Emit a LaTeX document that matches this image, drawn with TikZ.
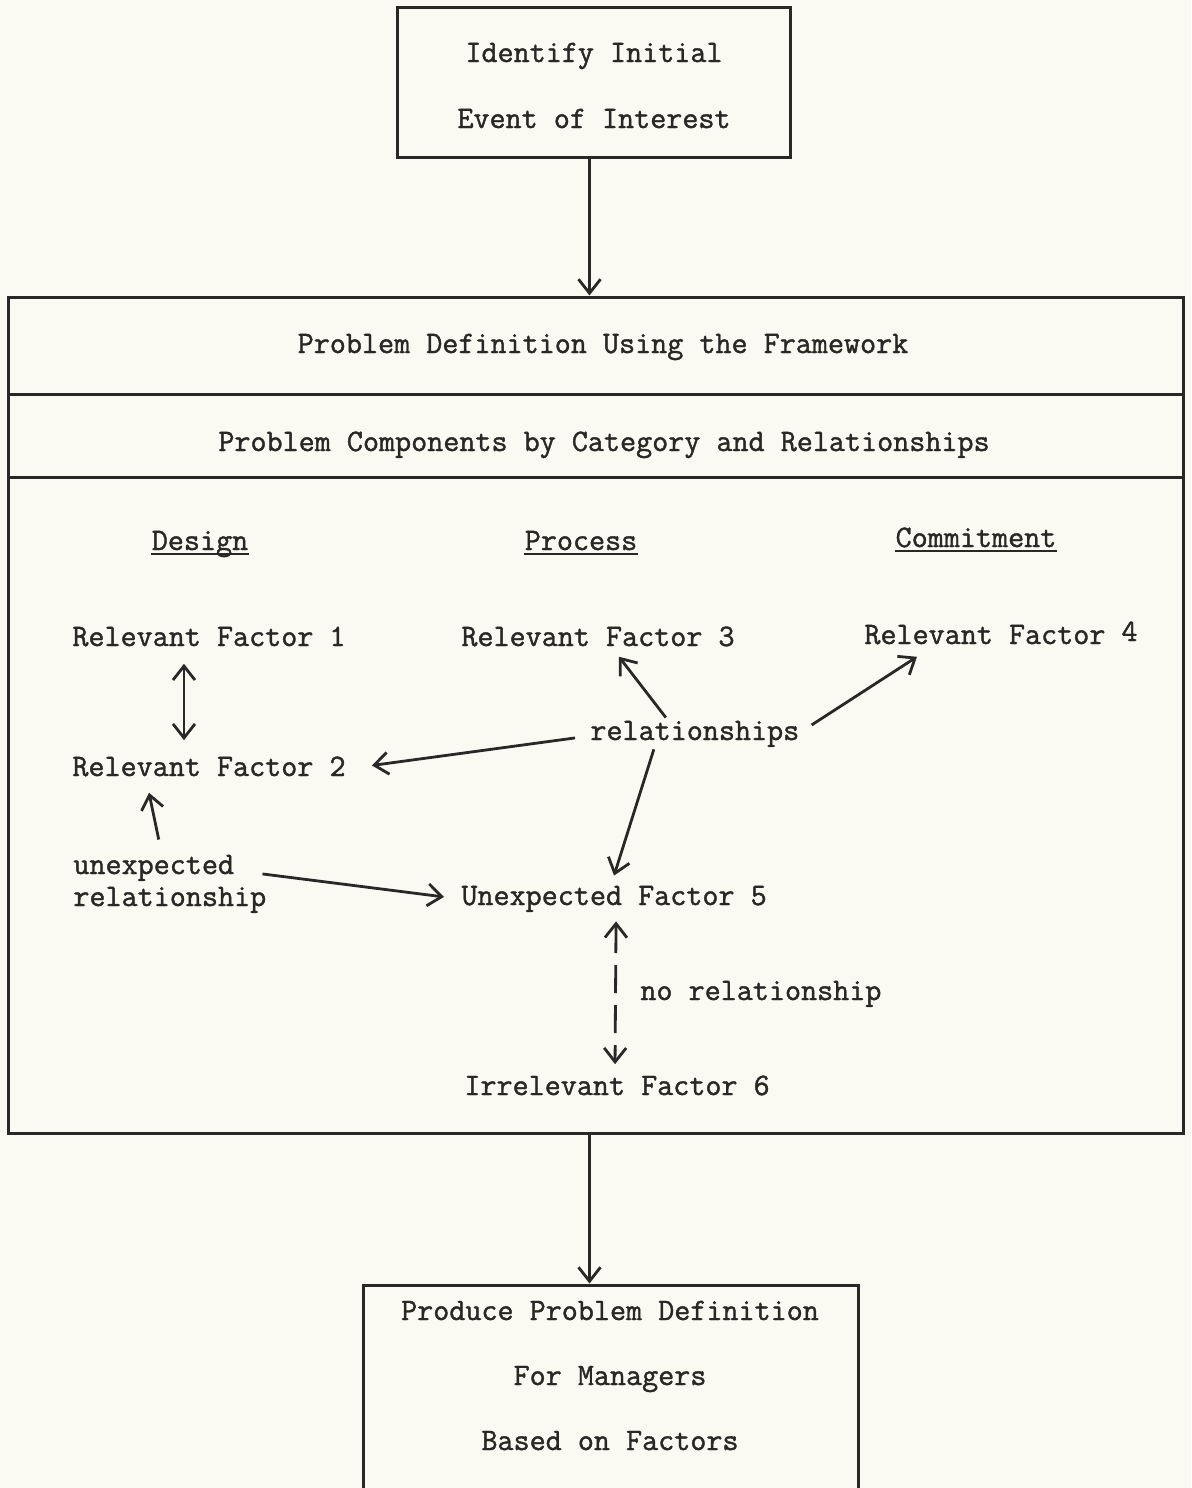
\documentclass[tikz,border=0pt]{standalone}
\usepackage{fontspec}
\newfontfamily\tw[FakeBold=1.3]{Latin Modern Mono}
\usetikzlibrary{arrows.meta,calc}
\definecolor{paper}{RGB}{251,250,242}
\definecolor{ink}{RGB}{40,40,38}
\tikzset{
  txt/.style={inner sep=0pt, font=\tw\fontsize{15.6}{18}\selectfont, text=ink},
  boxed/.style={draw=ink, line width=1.5pt, inner sep=0pt},
  arr/.style={draw=ink, line width=1.4pt, -{Straight Barb[length=7pt,width=11pt]}},
  darr/.style={draw=ink, line width=1.4pt, {Straight Barb[length=7pt,width=11pt]}-{Straight Barb[length=7pt,width=11pt]}},
  uline/.style={draw=ink, line width=1.1pt}
}
\begin{document}
\begin{tikzpicture}[x=0.5pt,y=-0.5pt]
\useasboundingbox (0,0) rectangle (1191,1488);
\fill[paper] (0,0) rectangle (1191,1488);
\begin{scope}
\clip (0,0) rectangle (1191,1488);
% boxes
\node[boxed, minimum width=196.5pt, minimum height=75pt] (top) at (593.5,82) {};
\node[boxed, minimum width=587.5pt, minimum height=48.5pt] (hdrA) at (595.5,345.5) {};
\node[boxed, minimum width=587.5pt, minimum height=41.5pt] (hdrB) at (595.5,435.5) {};
\node[boxed, minimum width=587.5pt, minimum height=328pt] (body) at (595.5,805) {};
\node[boxed, minimum width=247.5pt, minimum height=115pt] (bot) at (610.5,1400) {};
% texts
\node[txt, anchor=base] (t1) at (594,62) {Identify Initial};
\node[txt, anchor=base] (t2) at (594,128) {Event of Interest};
\node[txt, anchor=base] (pd) at (603,353) {Problem Definition Using the Framework};
\node[txt, anchor=base] (pc) at (604,451) {Problem Components by Category and Relationships};
\node[txt, anchor=base] (dsg) at (200,550) {Design};
\node[txt, anchor=base] (prc) at (581,550) {Process};
\node[txt, anchor=base] (cmt) at (976,547) {Commitment};
\draw[uline] ([yshift=-2pt]dsg.base west) -- ([yshift=-2pt]dsg.base east);
\draw[uline] ([yshift=-2pt]prc.base west) -- ([yshift=-2pt]prc.base east);
\draw[uline] ([yshift=-2pt]cmt.base west) -- ([yshift=-2pt]cmt.base east);
\node[txt, anchor=base west] (rf1) at (72,646) {Relevant Factor 1};
\node[txt, anchor=base west] (rf3) at (461,646) {Relevant Factor 3};
\node[txt, anchor=base west] (rf4) at (864,644) {Relevant Factor \raisebox{1.5pt}{4}};
\node[txt, anchor=base west] (rf2) at (72,776) {Relevant Factor 2};
\node[txt, anchor=base west] (rel) at (590,740) {relationships};
\node[txt, anchor=base west] (ux1) at (73,874) {unexpected};
\node[txt, anchor=base west] (ux2) at (73,906) {relationship};
\node[txt, anchor=base west] (uf5) at (461,905) {Unexpected Factor 5};
\node[txt, anchor=base west] (nor) at (640,1000) {no relationship};
\node[txt, anchor=base west] (if6) at (464,1095) {Irrelevant Factor 6};
\node[txt, anchor=base] (b1) at (610,1320) {Produce Problem Definition};
\node[txt, anchor=base] (b2) at (610,1385) {For Managers};
\node[txt, anchor=base] (b3) at (610,1450) {Based on Factors};
% connectors
\draw[arr] ([xshift=-2pt]top.south) -- ([xshift=-2pt]top.south |- hdrA.north);
\draw[arr] ([xshift=-3pt]body.south) -- ([xshift=-3pt]body.south |- bot.north);
\draw[darr] ($(rf1.south)+(-25,17)$) -- ($(rf2.north)+(-25,-16)$);
\draw[arr] ($(rel.north)+(-29,-3)$) -- ($(rf3.south)+(21,10)$);
\draw[arr] ($(rel.east)+(12,-9)$) -- ($(rf4.south)+(-84,12)$);
\draw[arr] ($(rel.west)+(-15,4)$) -- ($(rf2.east)+(26,-1)$);
\draw[arr] ($(rel.south)+(-41,2)$) -- ($(uf5.north)+(0,-10)$);
\draw[arr] ($(ux1.north)+(5,-15)$) -- ($(rf2.south)+(-60,16)$);
\draw[arr] ($(ux1.east)+(28,6)$) -- ($(uf5.west)+(-17,-2)$);
\draw[darr, dash pattern=on 14pt off 6pt] ($(uf5.south)+(2,9)$) -- ($(if6.north)+(-2,-11)$);
\end{scope}
\end{tikzpicture}
\end{document}
